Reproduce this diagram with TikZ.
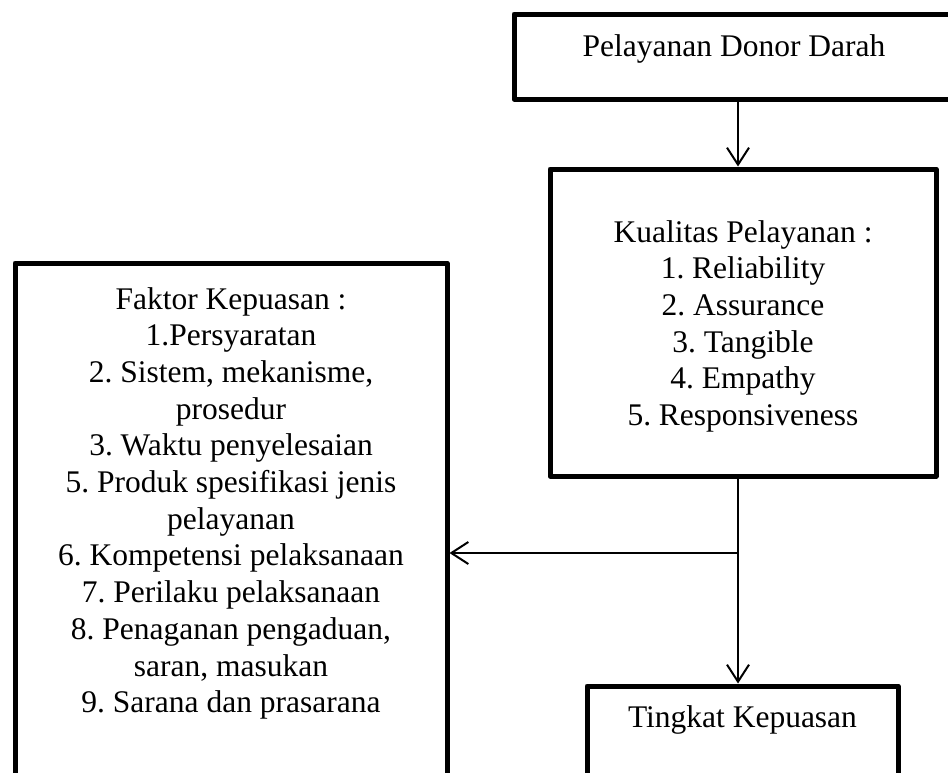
\documentclass[tikz,border=0pt]{standalone}
\usepackage{fontspec}
\setmainfont{Liberation Serif}
\usetikzlibrary{arrows.meta}
\frenchspacing

\begin{document}
\begin{tikzpicture}[
					x=1pt,y=-1pt,
					font=\fontsize{31.5}{36.7}\selectfont,
					kotak/.style={rectangle,draw,line width=5pt,line join=round,align=center,
						inner sep=0pt,outer sep=0pt,anchor=north},
					panah/.style={line width=2pt,-{Straight Barb[length=17pt,width=22pt]},shorten >=2.5pt},
					]
					\useasboundingbox (0,0) rectangle (948,772);
					\clip (0,0) rectangle (948,772);
					\node [kotak,minimum width=440pt,text height=42pt,text depth=43pt] (donor) at (734,14) {Pelayanan Donor Darah};
					\node [kotak,minimum width=386pt,text height=256.5pt,text depth=50.5pt] (kualitas) at (743,169) {Kualitas Pelayanan :\\
						1. Reliability\\ 2. Assurance\\ 3. Tangible\\ 4. Empathy\\ 5. Responsiveness};
					\node [kotak,minimum width=432pt,text height=449.7pt,text depth=87.3pt] (faktor) at (231,263) {Faktor Kepuasan :\\
						1.Persyaratan\\ 2. Sistem, mekanisme,\\ prosedur\\ 3. Waktu penyelesaian\\
						5. Produk spesifikasi jenis\\ pelayanan\\ 6. Kompetensi pelaksanaan\\
						7. Perilaku pelaksanaan\\ 8. Penaganan pengaduan,\\ saran, masukan\\ 9. Sarana dan prasarana};
					\node [kotak,minimum width=311pt,text height=41pt,text depth=73pt] (tingkat) at (742.5,686) {Tingkat Kepuasan};
					\coordinate (cabang) at (738,553);
					\draw [panah] (donor.south -| cabang) -- (kualitas.north -| cabang);
					\draw [line width=2pt] (kualitas.south -| cabang) -- (cabang);
					\draw [panah] (cabang) -- (faktor.east |- cabang);
					\draw [panah] (cabang) -- (tingkat.north -| cabang);
				\end{tikzpicture}
\end{document}
